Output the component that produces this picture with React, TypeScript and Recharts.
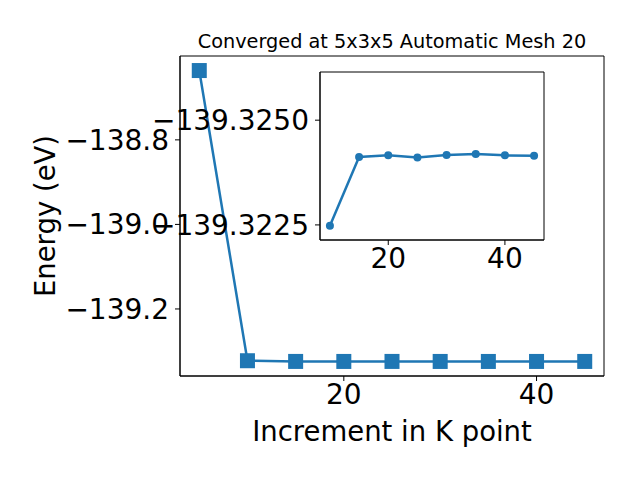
import { Line, LineChart, ReferenceArea, XAxis, YAxis } from 'recharts';

const FONT = 'DejaVu Sans';
const BLUE = '#1f77b4';

const title = 'Converged at 5x3x5 Automatic Mesh 20';

// main plot: energy vs k-point increment
const kPoints = [5, 10, 15, 20, 25, 30, 35, 40, 45];
const energies = [
  -138.636, -139.32248, -139.32412, -139.32416, -139.32411, -139.32417,
  -139.32419, -139.32416, -139.32415,
];
const mainXTicks = [20, 40];
const mainYTicks = [-139.2, -139.0, -138.8];
const mainXDomain = [3, 47];
const mainYDomain = [-139.3586, -138.6016];

// inset: zoom on the converged part
const insetKPoints = [10, 15, 20, 25, 30, 35, 40, 45];
const insetEnergies = [
  -139.32248, -139.32412, -139.32416, -139.32411, -139.32417, -139.32419,
  -139.32416, -139.32415,
];
const insetXTicks = [20, 40];
const insetYTicks = [-139.325, -139.3225];
const insetXDomain = [8.3, 46.7];
const insetYDomain = [-139.32615, -139.32214];

const mainData = kPoints.map((k, i) => ({ k, e: energies[i] }));
const insetData = insetKPoints.map((k, i) => ({ k, e: insetEnergies[i] }));

const tickStyle = { fontSize: 28, fill: '#000', fontFamily: FONT };
const lineStyle = { stroke: '#000', strokeWidth: 1 };

const fmt = (digits: number) => (v: number) =>
  (v < 0 ? '\u2212' : '') + Math.abs(v).toFixed(digits);

function SquareDot(props: any) {
  const { cx, cy, index } = props;
  if (cx == null || cy == null) return null;
  return (
    <rect key={`sq-${index}`} x={cx - 7.5} y={cy - 7.5} width={15} height={15} fill={BLUE} />
  );
}

function YLabel(props: any) {
  const { viewBox } = props;
  const x = viewBox.x + 45;
  const y = viewBox.y + viewBox.height / 2;
  return (
    <text
      x={x}
      y={y}
      transform={`rotate(-90 ${x} ${y})`}
      textAnchor="middle"
      dominantBaseline="central"
      fontSize={27.5}
      fontFamily={FONT}
      fill="#000"
    >
      Energy (eV)
    </text>
  );
}

export default function App() {
  return (
    <div style={{ position: 'absolute', left: 0, top: 0, width: 640, height: 480, background: '#fff' }}>
      <LineChart width={640} height={480} data={mainData} margin={{ top: 56, right: 36, bottom: 0, left: 0 }}>
        <XAxis
          dataKey="k"
          type="number"
          domain={mainXDomain}
          ticks={mainXTicks}
          allowDataOverflow
          interval={0}
          height={104}
          tickSize={5}
          tickMargin={3}
          tick={tickStyle}
          axisLine={lineStyle}
          tickLine={lineStyle}
          label={{ value: 'Increment in K point', position: 'insideBottom', offset: 39, fontSize: 27.5, fill: '#000', fontFamily: FONT }}
        />
        <YAxis
          type="number"
          domain={mainYDomain}
          ticks={mainYTicks}
          allowDataOverflow
          interval={0}
          width={180}
          tickSize={5}
          tickMargin={6}
          tick={tickStyle}
          tickFormatter={fmt(1)}
          axisLine={lineStyle}
          tickLine={lineStyle}
          label={<YLabel />}
        />
        <ReferenceArea
          x1={mainXDomain[0]}
          x2={mainXDomain[1]}
          y1={mainYDomain[0]}
          y2={mainYDomain[1]}
          fill="none"
          stroke="#000"
          strokeWidth={1}
          strokeOpacity={1}
          label={{ value: title, position: 'top', offset: 8, fontSize: 19.3, fill: '#000', fontFamily: FONT }}
        />
        <Line dataKey="e" stroke={BLUE} strokeWidth={2.5} dot={<SquareDot />} activeDot={false} isAnimationActive={false} />
      </LineChart>
      <div style={{ position: 'absolute', left: 0, top: 0 }}>
        <LineChart width={640} height={480} data={insetData} margin={{ top: 72, right: 96, bottom: 0, left: 0 }}>
          <XAxis
            dataKey="k"
            type="number"
            domain={insetXDomain}
            ticks={insetXTicks}
            allowDataOverflow
            interval={0}
            height={240}
            tickSize={5}
            tickMargin={3}
            tick={tickStyle}
            axisLine={lineStyle}
            tickLine={lineStyle}
          />
          <YAxis
            type="number"
            domain={insetYDomain}
            reversed
            ticks={insetYTicks}
            allowDataOverflow
            interval={0}
            width={320}
            tickSize={5}
            tickMargin={6}
            tick={tickStyle}
            tickFormatter={fmt(4)}
            axisLine={lineStyle}
            tickLine={lineStyle}
          />
          <ReferenceArea
            x1={insetXDomain[0]}
            x2={insetXDomain[1]}
            y1={insetYDomain[0]}
            y2={insetYDomain[1]}
            fill="none"
            stroke="#000"
            strokeWidth={1}
            strokeOpacity={1}
          />
          <Line
            dataKey="e"
            stroke={BLUE}
            strokeWidth={2.5}
            dot={{ r: 4, fill: BLUE, stroke: BLUE, strokeWidth: 0 }}
            activeDot={false}
            isAnimationActive={false}
          />
        </LineChart>
      </div>
    </div>
  );
}
